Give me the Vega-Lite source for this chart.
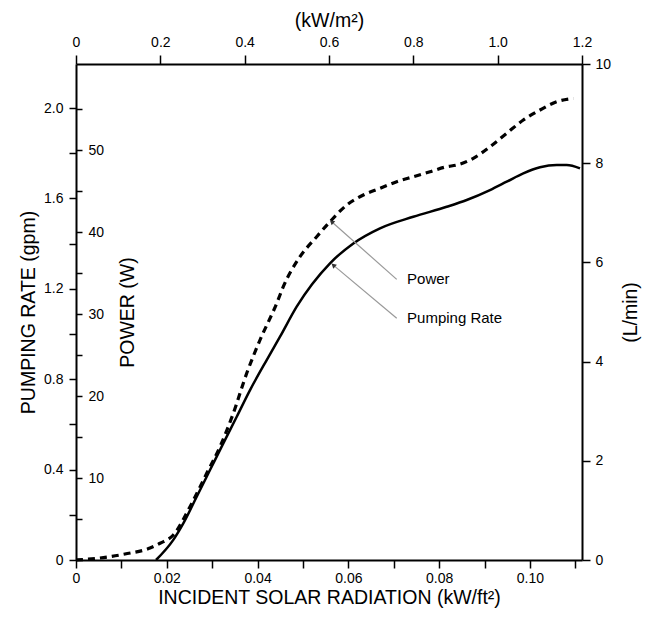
{
  "$schema": "https://vega.github.io/schema/vega-lite/v6.json",
  "width": 506,
  "height": 496,
  "autosize": "none",
  "padding": {"left": 76, "top": 64, "right": 70, "bottom": 59},
  "background": "white",
  "config": {
    "view": {"stroke": null},
    "font": "Liberation Sans",
    "axis": {
      "grid": false,
      "domainColor": "black",
      "domainWidth": 2,
      "tickColor": "black",
      "tickWidth": 1.5,
      "labelColor": "black",
      "titleColor": "black",
      "labelFont": "Liberation Sans",
      "titleFont": "Liberation Sans",
      "titleFontWeight": "normal",
      "labelFontSize": 14,
      "titleFontSize": 19.5,
      "labelFlush": false,
      "labelOverlap": false
    }
  },
  "datasets": {
    "pumping": [
      {"x": 0.01763, "gpm": 0},
      {"x": 0.02144, "gpm": 0.089},
      {"x": 0.02364, "gpm": 0.162},
      {"x": 0.02659, "gpm": 0.28},
      {"x": 0.02952, "gpm": 0.398},
      {"x": 0.03245, "gpm": 0.516},
      {"x": 0.03541, "gpm": 0.634},
      {"x": 0.03834, "gpm": 0.752},
      {"x": 0.04201, "gpm": 0.885},
      {"x": 0.04495, "gpm": 0.988},
      {"x": 0.04862, "gpm": 1.121},
      {"x": 0.05596, "gpm": 1.313},
      {"x": 0.0611, "gpm": 1.401},
      {"x": 0.06698, "gpm": 1.468},
      {"x": 0.07431, "gpm": 1.519},
      {"x": 0.08167, "gpm": 1.563},
      {"x": 0.08608, "gpm": 1.593},
      {"x": 0.09121, "gpm": 1.637},
      {"x": 0.09489, "gpm": 1.674},
      {"x": 0.09855, "gpm": 1.711},
      {"x": 0.10223, "gpm": 1.738},
      {"x": 0.10591, "gpm": 1.748},
      {"x": 0.10811, "gpm": 1.748},
      {"x": 0.11104, "gpm": 1.733}
    ],
    "power": [
      {"x": 0, "w": 0},
      {"x": 0.00529, "w": 0.24},
      {"x": 0.0108, "w": 0.73},
      {"x": 0.0163, "w": 1.46},
      {"x": 0.01851, "w": 2.04},
      {"x": 0.02144, "w": 3.05},
      {"x": 0.02512, "w": 6.5},
      {"x": 0.0288, "w": 10.57},
      {"x": 0.03173, "w": 13.82},
      {"x": 0.03466, "w": 17.89},
      {"x": 0.03761, "w": 22.77},
      {"x": 0.04054, "w": 26.83},
      {"x": 0.04422, "w": 31.3},
      {"x": 0.04567, "w": 33.33},
      {"x": 0.04935, "w": 36.99},
      {"x": 0.05303, "w": 39.43},
      {"x": 0.05596, "w": 41.26},
      {"x": 0.05964, "w": 43.29},
      {"x": 0.0633, "w": 44.51},
      {"x": 0.06698, "w": 45.33},
      {"x": 0.07066, "w": 46.13},
      {"x": 0.07431, "w": 46.74},
      {"x": 0.07799, "w": 47.35},
      {"x": 0.08167, "w": 47.96},
      {"x": 0.08388, "w": 48.17},
      {"x": 0.08753, "w": 48.99},
      {"x": 0.09121, "w": 50.4},
      {"x": 0.09489, "w": 52.04},
      {"x": 0.09855, "w": 53.66},
      {"x": 0.10223, "w": 54.88},
      {"x": 0.10591, "w": 55.89},
      {"x": 0.10957, "w": 56.3}
    ],
    "notes": [
      {"label": "Power", "tx": 0.05633, "ty": 1.497, "ex": 0.07066, "ey": 1.242, "lx": 0.0725},
      {"label": "Pumping Rate", "tx": 0.05669, "ty": 1.305, "ex": 0.07066, "ey": 1.07, "lx": 0.0725}
    ],
    "frame": [
      {"kwm2": 0, "lpm": 0},
      {"kwm2": 1.2, "lpm": 10}
    ]
  },
  "layer": [
    {
      "data": {"name": "pumping"},
      "mark": {"type": "line", "color": "black", "strokeWidth": 2.5, "interpolate": "monotone"},
      "encoding": {
        "x": {
          "field": "x", "type": "quantitative",
          "scale": {"domain": [0, 0.11148], "nice": false, "zero": false},
          "axis": {
            "orient": "bottom",
            "title": "INCIDENT SOLAR RADIATION (kW/ft²)",
            "values": [0, 0.01, 0.02, 0.03, 0.04, 0.05, 0.06, 0.07, 0.08, 0.09, 0.1, 0.11],
            "labelExpr": "datum.value == 0 ? '0' : (round(datum.value * 100) % 2 == 0 ? format(datum.value, '.2f') : '')",
            "tickSize": 8,
            "labelPadding": 3,
            "titlePadding": 3
          }
        },
        "y": {
          "field": "gpm", "type": "quantitative",
          "scale": {"domain": [0, 2.195], "nice": false, "zero": false},
          "axis": {
            "orient": "left",
            "title": "PUMPING RATE (gpm)",
            "values": [0, 0.2, 0.4, 0.6, 0.8, 1.0, 1.2, 1.4, 1.6, 1.8, 2.0],
            "labelExpr": "datum.value == 0 ? '0' : (round(datum.value * 10) % 4 == 0 ? format(datum.value, '.1f') : '')",
            "tickSize": 7,
            "labelPadding": 6,
            "titlePadding": 5
          }
        }
      }
    },
    {
      "data": {"name": "power"},
      "mark": {"type": "line", "color": "black", "strokeWidth": 3.2, "strokeDash": [7, 5], "interpolate": "monotone"},
      "encoding": {
        "x": {
          "field": "x", "type": "quantitative",
          "scale": {"domain": [0, 0.11148], "nice": false, "zero": false},
          "axis": null
        },
        "y": {
          "field": "w", "type": "quantitative",
          "scale": {"domain": [0, 60.49], "nice": false, "zero": false},
          "axis": {
            "orient": "right",
            "offset": -506,
            "title": "POWER (W)",
            "titleAngle": 270,
            "values": [5, 10, 15, 20, 25, 30, 35, 40, 45, 50, 55],
            "labelExpr": "datum.value % 10 == 0 ? format(datum.value, 'd') : ''",
            "tickSize": 6,
            "labelPadding": 6,
            "titlePadding": 34,
            "domain": false
          }
        }
      }
    },
    {
      "data": {"name": "frame"},
      "mark": {"type": "point", "opacity": 0},
      "encoding": {
        "x": {
          "field": "kwm2", "type": "quantitative",
          "scale": {"domain": [0, 1.2], "nice": false, "zero": false},
          "axis": {
            "orient": "top",
            "title": "(kW/m²)",
            "values": [0, 0.2, 0.4, 0.6, 0.8, 1.0, 1.2],
            "labelExpr": "datum.value == 0 ? '0' : format(datum.value, '.1f')",
            "tickSize": 9,
            "labelPadding": 6,
            "titlePadding": 5
          }
        },
        "y": {
          "field": "lpm", "type": "quantitative",
          "scale": {"domain": [0, 10], "nice": false, "zero": false},
          "axis": {
            "orient": "right",
            "title": "(L/min)",
            "titleAngle": 270,
            "values": [0, 2, 4, 6, 8, 10],
            "format": "d",
            "tickSize": 8,
            "labelPadding": 5,
            "titlePadding": 30
          }
        }
      }
    },
    {
      "data": {"name": "notes"},
      "mark": {"type": "rule", "color": "#999999", "strokeWidth": 1.2},
      "encoding": {
        "x": {"field": "tx", "type": "quantitative", "scale": {"domain": [0, 0.11148], "nice": false, "zero": false}, "axis": null},
        "y": {"field": "ty", "type": "quantitative", "scale": {"domain": [0, 2.195], "nice": false, "zero": false}, "axis": null},
        "x2": {"field": "ex"},
        "y2": {"field": "ey"}
      }
    },
    {
      "data": {"name": "notes"},
      "mark": {"type": "point", "shape": "triangle-up", "filled": true, "color": "#333333", "size": 30, "angle": 311.6, "opacity": 1},
      "encoding": {
        "x": {"field": "tx", "type": "quantitative", "scale": {"domain": [0, 0.11148], "nice": false, "zero": false}, "axis": null},
        "y": {"field": "ty", "type": "quantitative", "scale": {"domain": [0, 2.195], "nice": false, "zero": false}, "axis": null}
      }
    },
    {
      "data": {"name": "notes"},
      "mark": {"type": "text", "align": "left", "baseline": "middle", "fontSize": 15, "font": "Liberation Sans", "color": "black", "dx": 2},
      "encoding": {
        "x": {"field": "lx", "type": "quantitative", "scale": {"domain": [0, 0.11148], "nice": false, "zero": false}, "axis": null},
        "y": {"field": "ey", "type": "quantitative", "scale": {"domain": [0, 2.195], "nice": false, "zero": false}, "axis": null},
        "text": {"field": "label"}
      }
    }
  ],
  "resolve": {
    "scale": {"x": "independent", "y": "independent"},
    "axis": {"x": "independent", "y": "independent"}
  }
}
